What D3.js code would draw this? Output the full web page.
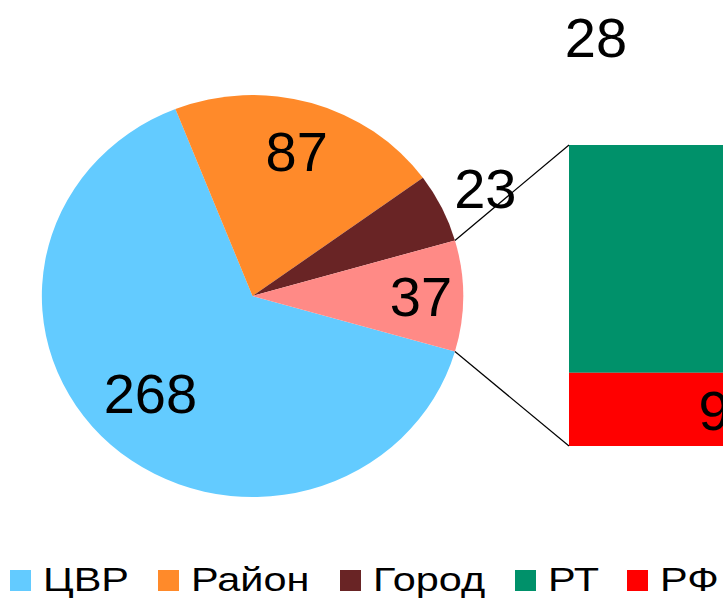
<!DOCTYPE html>
<html>
<head>
<meta charset="utf-8">
<script src="https://cdn.jsdelivr.net/npm/d3@7"></script>
<style>
  body { margin: 0; background: #fff; }
  svg { display: block; font-family: Arial, "Liberation Sans", sans-serif; }
</style>
</head>
<body>
<div id="chart"></div>
<script>
// pie part
var pieNames = ["ЦВР", "Район", "Город", "Другое"];
var pieValues = [268, 87, 23, 37];
var pieColors = ["#63cbff", "#ff8a2a", "#692425", "#ff8a86"];

// bar part (breakdown of the last slice)
var barNames = ["РТ", "РФ"];
var barValues = [28, 9];
var barColors = ["#00916a", "#ff0000"];

var legendNames = ["ЦВР", "Район", "Город", "РТ", "РФ"];
var legendColors = ["#63cbff", "#ff8a2a", "#692425", "#00916a", "#ff0000"];

var width = 723, height = 600;

var svg = d3.select("#chart").append("svg")
    .attr("width", width)
    .attr("height", height);

var cx = 252.5, cy = 296, r = 201, sx = 1.048;

var otherAngle = 2 * Math.PI * pieValues[3] / d3.sum(pieValues);
var start = Math.PI / 2 + otherAngle / 2;

var pie = d3.pie().sort(null)
    .startAngle(start)
    .endAngle(start + 2 * Math.PI);
var arcs = pie(pieValues);

var arc = d3.arc().innerRadius(0).outerRadius(r);

var pieG = svg.append("g")
    .attr("transform", `translate(${cx},${cy}) scale(${sx},1)`);

pieG.selectAll("path")
    .data(arcs)
    .join("path")
    .attr("d", arc)
    .attr("fill", (d, i) => pieColors[i]);

// labels (not scaled)
function labelPos(d, k) {
    var a = (d.startAngle + d.endAngle) / 2;
    return [cx + sx * k * r * Math.sin(a), cy - k * r * Math.cos(a)];
}
var labelK = [0.65, 0.75, 1.23, 0.8];

svg.selectAll("text.pl")
    .data(arcs)
    .join("text")
    .attr("class", "pl")
    .attr("x", (d, i) => labelPos(d, labelK[i])[0] - (i == 0 ? 10 : 0))
    .attr("y", (d, i) => labelPos(d, labelK[i])[1])
    .attr("dy", "0.36em")
    .attr("text-anchor", "middle")
    .style("font-size", "56px")
    .text(d => d.data);

// bar
var barX = 569, barW = 290, barTop = 145, barBottom = 446;
var y = d3.scaleLinear()
    .domain([0, d3.sum(barValues)])
    .range([barTop, barBottom]);

var stacked = [];
var acc = 0;
barValues.forEach(function (v, i) {
    stacked.push({ name: barNames[i], value: v, y0: acc, y1: acc + v, color: barColors[i] });
    acc += v;
});

svg.selectAll("rect.bar")
    .data(stacked)
    .join("rect")
    .attr("class", "bar")
    .attr("x", barX)
    .attr("y", d => y(d.y0))
    .attr("width", barW)
    .attr("height", d => y(d.y1) - y(d.y0))
    .attr("fill", d => d.color);

// connector lines
var other = arcs[3];
[other.startAngle, other.endAngle].forEach(function (a, i) {
    svg.append("line")
        .attr("x1", cx + sx * r * Math.sin(a))
        .attr("y1", cy - r * Math.cos(a))
        .attr("x2", barX)
        .attr("y2", i == 0 ? barTop : barBottom)
        .attr("stroke", "#000")
        .attr("stroke-width", 1.2);
});

// bar labels: 28 was dragged above the chart in the original
svg.append("text")
    .attr("x", 596)
    .attr("y", 37)
    .attr("dy", "0.36em")
    .attr("text-anchor", "middle")
    .style("font-size", "56px")
    .text(stacked[0].value);

svg.append("text")
    .attr("x", barX + barW / 2)
    .attr("y", (y(stacked[1].y0) + y(stacked[1].y1)) / 2)
    .attr("dy", "0.36em")
    .attr("text-anchor", "middle")
    .style("font-size", "56px")
    .text(stacked[1].value);

// legend
var legendX = [10, 158, 340, 515, 627];
var legend = svg.selectAll("g.leg")
    .data(legendNames)
    .join("g")
    .attr("class", "leg")
    .attr("transform", (d, i) => `translate(${legendX[i]},570)`);

legend.append("rect")
    .attr("width", 21)
    .attr("height", 21)
    .attr("fill", (d, i) => legendColors[i]);

legend.append("text")
    .attr("transform", "translate(33,21) scale(1.22,1)")
    .style("font-size", "34px")
    .text(d => d);
</script>
</body>
</html>
